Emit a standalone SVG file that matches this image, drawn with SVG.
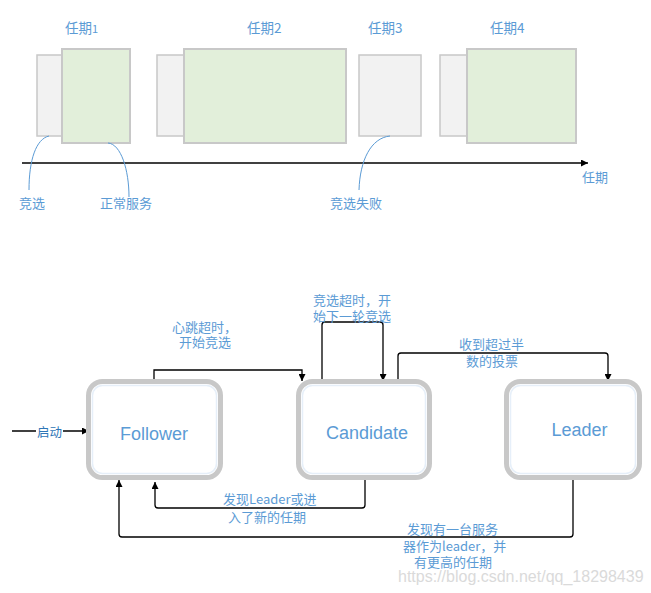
<svg xmlns="http://www.w3.org/2000/svg" width="651" height="593" viewBox="0 0 651 593">
<style>
.gray{fill:#F2F2F2;stroke:#C8C8C8;stroke-width:1.5}
.green{fill:#E2EFDA;stroke:#C8C8C8;stroke-width:2}
.lbl{font-family:"Noto Sans CJK SC","Liberation Sans",sans-serif;font-size:13px;fill:#5B9BD5}
.term{font-size:13.5px}
.curve{fill:none;stroke:#5B9BD5;stroke-width:1}
.box{fill:#FFFFFF;stroke:#C8C8C8;stroke-width:5}
.glow{fill:none;stroke:#E6EFF9;stroke-width:1.5}
.name{font-family:"Liberation Sans",Arial,sans-serif;font-size:18px;fill:#5B9BD5;text-anchor:middle}
.conn{fill:none;stroke:#000;stroke-width:1.3}
</style>
<defs>
<marker id="ah" viewBox="0 0 10 10" refX="10" refY="5" markerWidth="7" markerHeight="7" markerUnits="userSpaceOnUse" orient="auto">
<path d="M0,0 L10,5 L0,10 z" fill="#000"/>
</marker>
</defs>
<rect width="651" height="593" fill="#FFFFFF"/>

<g id="term1">
<rect class="gray" x="37" y="55" width="26" height="81"/>
<rect class="green" x="62" y="49" width="68" height="94"/>
<text class="lbl term" x="65" y="33">任期<tspan font-size="11">1</tspan></text>
</g>
<g id="term2">
<rect class="gray" x="157" y="55" width="27" height="81"/>
<rect class="green" x="184" y="49" width="162" height="94"/>
<text class="lbl term" x="247" y="33">任期2</text>
</g>
<g id="term3">
<rect class="gray" x="359" y="55" width="62" height="81"/>
<text class="lbl term" x="368" y="33">任期3</text>
</g>
<g id="term4">
<rect class="gray" x="440" y="55" width="27" height="81"/>
<rect class="green" x="467" y="49" width="109" height="94"/>
<text class="lbl term" x="490" y="33">任期4</text>
</g>
<g id="axis">
<line x1="22" y1="163" x2="588" y2="163" stroke="#000" stroke-width="1.3" marker-end="url(#ah)"/>
<text class="lbl" x="582" y="182" font-size="14">任期</text>
</g>
<g id="notes">
<path class="curve" d="M49,136 C36,139 29,160 29,190"/>
<path class="curve" d="M108,143 C121,144 129,170 129,197"/>
<path class="curve" d="M390,136 C371,138 360,160 359,190"/>
<text class="lbl" x="19" y="208">竞选</text>
<text class="lbl" x="100" y="208">正常服务</text>
<text class="lbl" x="330" y="208">竞选失败</text>
</g>

<g id="connectors">
<path class="conn" d="M12,431 H89" marker-end="url(#ah)"/>
<path class="conn" d="M154,380 V370 H302 V381" marker-end="url(#ah)"/>
<path class="conn" d="M322,387 V325 Q322,322 325,322 H380 Q383,322 383,325 V381" marker-end="url(#ah)"/>
<path class="conn" d="M398,383 V356 Q398,353 401,353 H605 Q608,353 608,356 V381" marker-end="url(#ah)"/>
<path class="conn" d="M365,479 V505 Q365,508 362,508 H158 Q155,508 155,505 V482" marker-end="url(#ah)"/>
<path class="conn" d="M573,480 V534 Q573,537 570,537 H122 Q119,537 119,534 V480" marker-end="url(#ah)"/>
<rect x="36" y="423" width="27" height="16" fill="#FFFFFF"/>
<text x="37" y="437" font-family="Noto Sans CJK SC,sans-serif" font-size="12.5" fill="#2E75B6">启动</text>
<text class="lbl"><tspan x="172" y="332">心跳超时，</tspan><tspan x="179" y="347">开始竞选</tspan></text>
<text class="lbl"><tspan x="313" y="305">竞选超时，开</tspan><tspan x="313" y="321">始下一轮竞选</tspan></text>
<text class="lbl"><tspan x="459" y="349">收到超过半</tspan><tspan x="466" y="366">数的投票</tspan></text>
<text class="lbl"><tspan x="223" y="504">发现Leader或进</tspan><tspan x="228" y="522">入了新的任期</tspan></text>
<text class="lbl"><tspan x="407" y="534">发现有一台服务</tspan><tspan x="403" y="551">器作为leader，并</tspan><tspan x="414" y="567">有更高的任期</tspan></text>
</g>

<g id="follower">
<rect class="box" x="88.5" y="381.5" width="132" height="96" rx="14"/>
<rect class="glow" x="92.5" y="385.5" width="124" height="88" rx="10"/>
<text class="name" x="154" y="440">Follower</text>
</g>
<g id="candidate">
<rect class="box" x="298.5" y="381.5" width="131" height="96" rx="14"/>
<rect class="glow" x="302.5" y="385.5" width="123" height="88" rx="10"/>
<text class="name" x="367" y="439">Candidate</text>
</g>
<g id="leader">
<rect class="box" x="506.5" y="381.5" width="133" height="96" rx="14"/>
<rect class="glow" x="510.5" y="385.5" width="125" height="88" rx="10"/>
<text class="name" x="579.5" y="436">Leader</text>
</g>

<text x="398" y="582" font-family="Liberation Sans,sans-serif" font-size="16" fill="#DADADA">https://blog.csdn.net/qq_18298439</text>
</svg>
